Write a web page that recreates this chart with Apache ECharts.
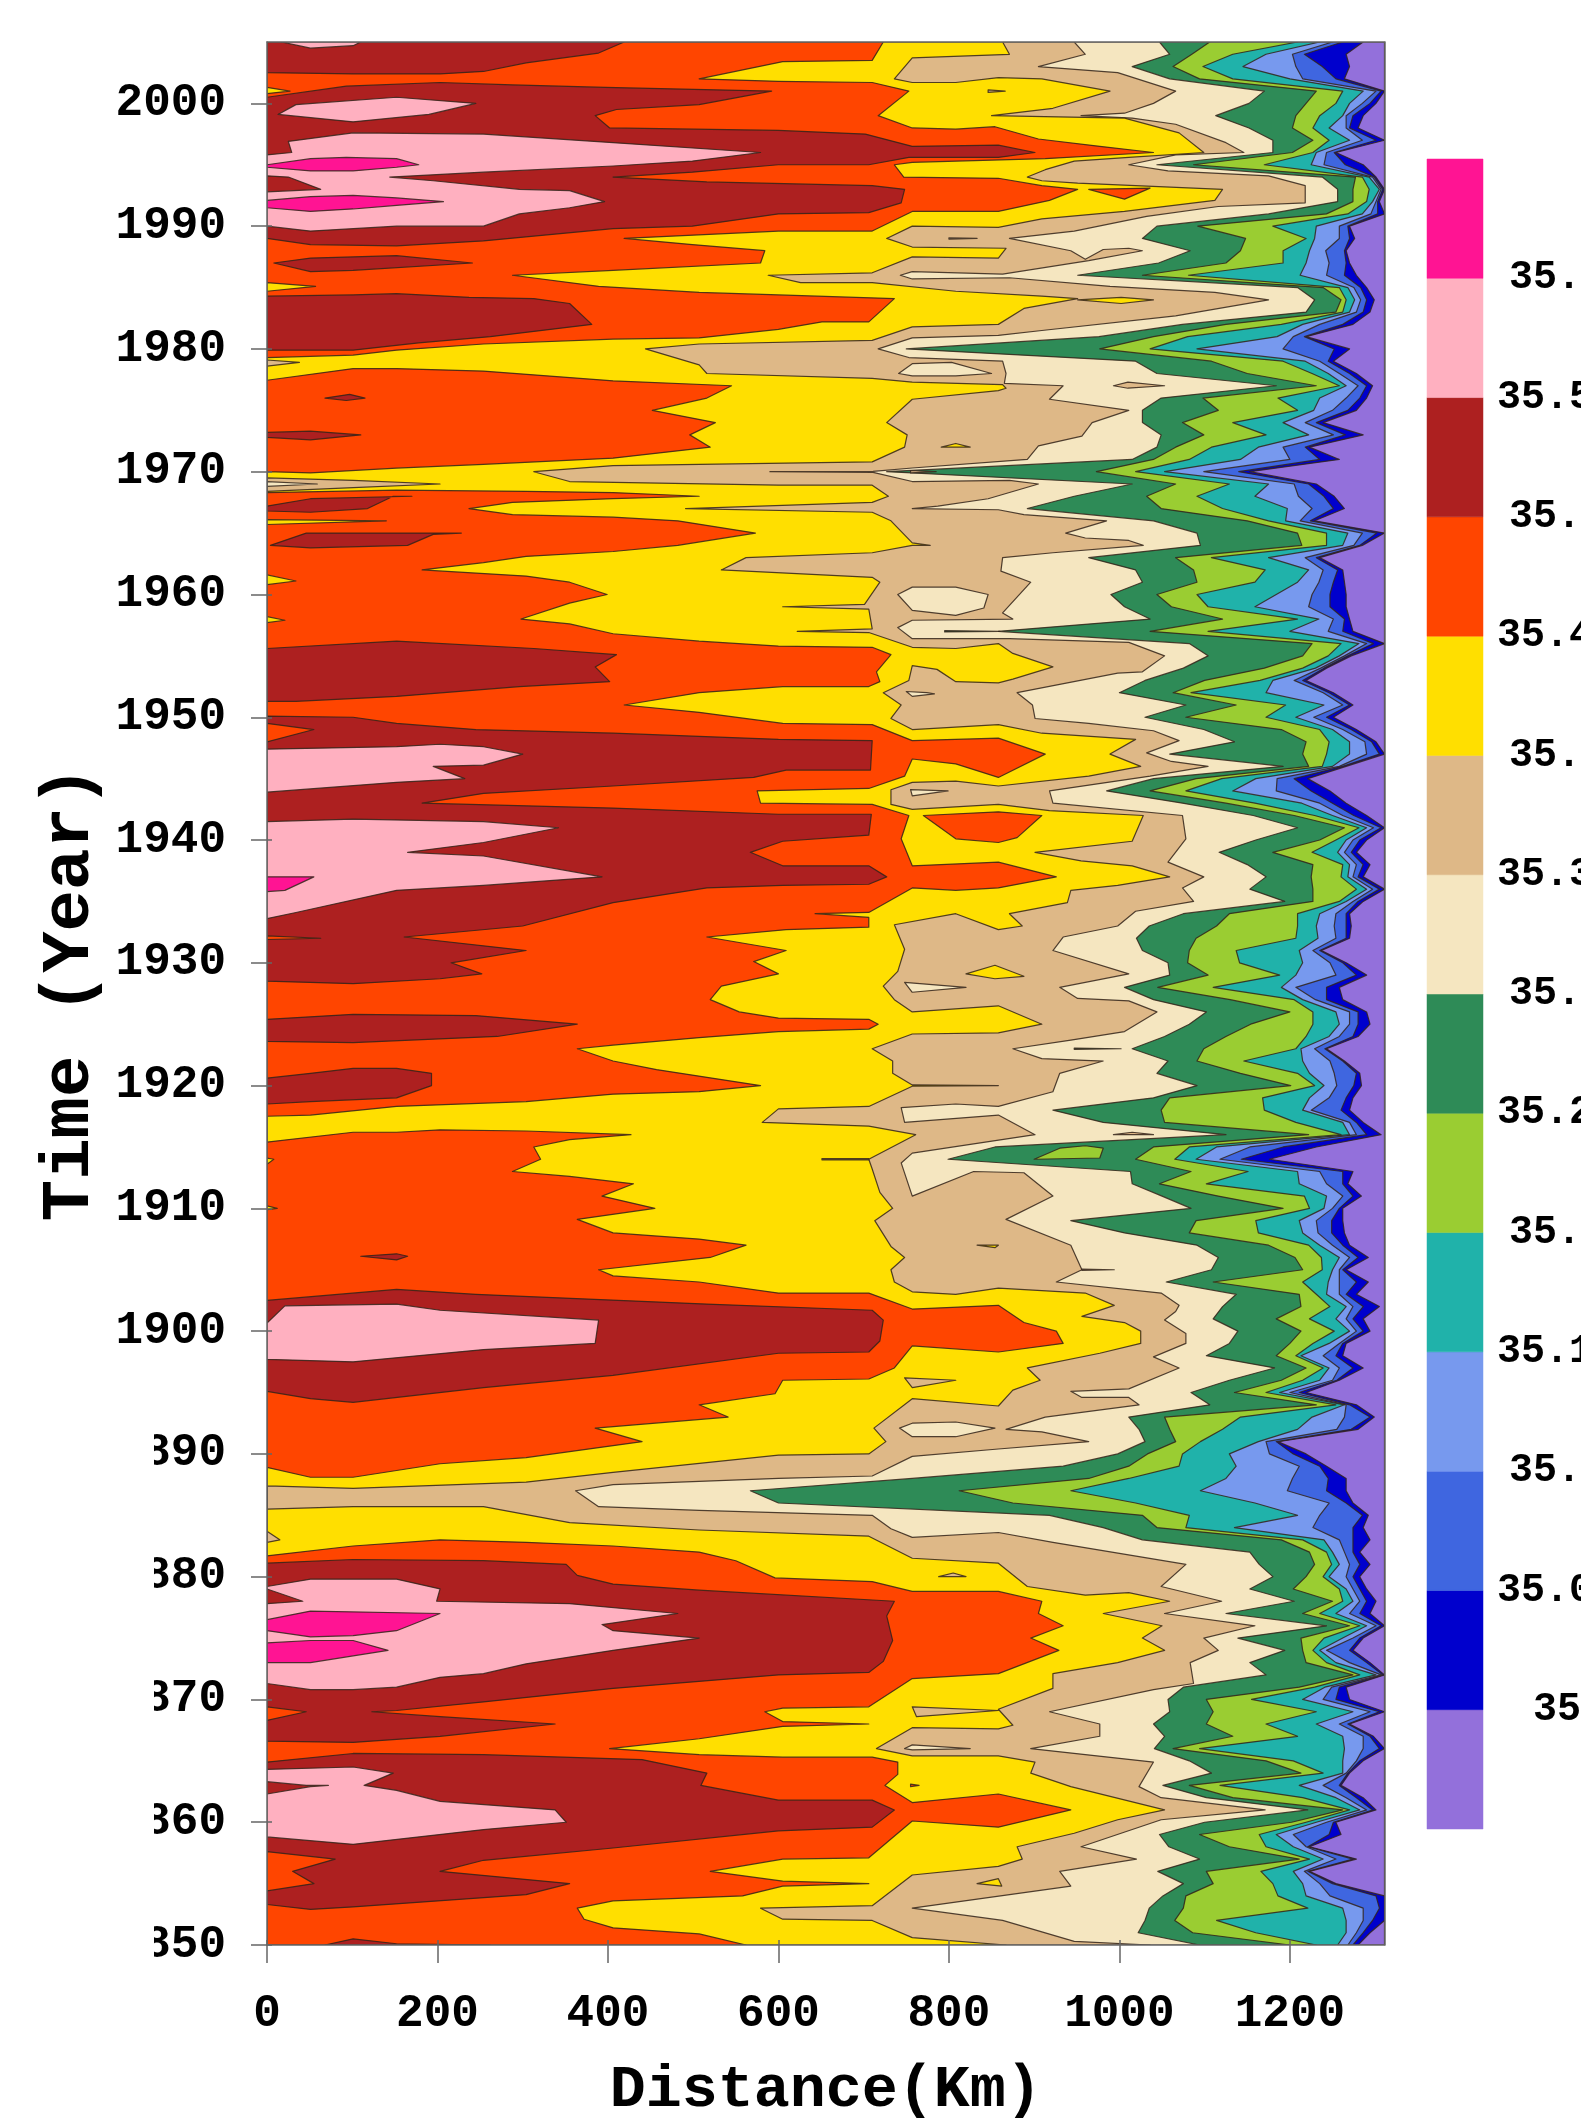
<!DOCTYPE html>
<html><head><meta charset="utf-8">
<style>html,body{margin:0;padding:0;background:#fff}#c{width:1581px;height:2123px}</style>
<script src="https://cdn.jsdelivr.net/npm/echarts@6/dist/echarts.min.js"></script>
</head><body><div id="c"></div>
<script>
// Colour bar
const levels=[35,35.05,35.1,35.15,35.2,35.25,35.3,35.35,35.4,35.45,35.5,35.55,35.6];
const levelLabels=["35","35.05","35.1","35.15","35.2","35.25","35.3","35.35","35.4","35.45","35.5","35.55","35.6"];
const bandColors=["#9370DB","#0000CD","#3F66E0","#7799EE","#20B2AA","#9ACD32","#2E8B57","#F5E6C0","#DEB887","#FFDF00","#FF4500","#AD2020","#FFB0C0","#FF1493"];
const yearTicks=[1850,1860,1870,1880,1890,1900,1910,1920,1930,1940,1950,1960,1970,1980,1990,2000];
const kmTicks=[0,200,400,600,800,1000,1200];

// Rows: year, then km where salinity crosses 35.30,35.25,35.20,35.15,35.10,35.05,35.00
const rows2000s=[[2005,1047,1106,1209,1235,1250,1262,1286],[2004,1059,1085,1133,1172,1203,1217,1266],[2003,1015,1063,1098,1145,1207,1238,1270],[2002,1059,1094,1133,1200,1215,1254,1264],[2001,1170,1231,1262,1286,1301,1307,1311],[2000,1152,1219,1254,1270,1285,1294,1301]];
const rows1990s=[[1999,1113,1207,1235,1262,1266,1274,1286],[1998,1152,1203,1227,1246,1266,1270,1280],[1997,1180,1227,1246,1270,1285,1301,1311],[1996,1180,1203,1227,1231,1243,1252,1254],[1995,1044,1087,1170,1225,1240,1265,1286],[1994,1238,1277,1285,1293,1297,1299,1301],[1993,1256,1274,1293,1305,1307,1309,1311],[1992,1256,1274,1290,1297,1301,1303,1305],[1991,1175,1243,1268,1285,1295,1303,1311],[1990,1044,1092,1180,1231,1258,1268,1270]];
const rows1980s=[[1989,1027,1148,1219,1229,1258,1270,1276],[1988,1083,1142,1192,1223,1242,1264,1266],[1987,1046,1125,1192,1219,1246,1266,1270],[1986,951,1027,1081,1212,1243,1264,1278],[1985,1209,1239,1258,1268,1275,1283,1290],[1984,1229,1260,1266,1276,1283,1290,1299],[1983,1219,1254,1262,1270,1278,1286,1294],[1982,1074,1125,1190,1215,1235,1262,1274],[1981,976,1040,1080,1185,1204,1217,1219],[1980,750,977,1036,1091,1192,1252,1270]];
const rows1970s=[[1979,1019,1108,1192,1218,1235,1245,1251],[1978,1044,1150,1226,1245,1258,1270,1278],[1977,1184,1231,1258,1266,1280,1290,1297],[1976,1049,1098,1186,1235,1266,1282,1290],[1975,1027,1116,1209,1228,1250,1268,1278],[1974,1027,1074,1133,1192,1218,1231,1239],[1973,1049,1099,1172,1222,1251,1265,1286],[1972,1044,1066,1108,1163,1192,1218,1223],[1971,1015,1040,1082,1142,1200,1235,1258],[1970,727,973,1019,1053,1099,1140,1153]];
const rows1960s=[[1969,1015,1066,1129,1175,1205,1222,1231],[1968,947,1032,1091,1159,1210,1240,1252],[1967,892,1049,1121,1197,1226,1251,1264],[1966,1040,1150,1175,1195,1212,1224,1229],[1965,1091,1209,1243,1268,1285,1302,1311],[1964,1095,1214,1243,1262,1275,1282,1285],[1963,964,1066,1108,1175,1218,1231,1235],[1962,1019,1087,1171,1222,1239,1256,1262],[1961,1027,1091,1159,1209,1234,1251,1264],[1960,990,1044,1091,1184,1226,1247,1266]];
const rows1950s=[[1959,1006,1061,1104,1159,1222,1247,1266],[1958,1036,1121,1209,1234,1251,1264,1270],[1957,858,1036,1104,1200,1245,1262,1274],[1956,1082,1226,1260,1281,1290,1298,1311],[1955,1104,1215,1245,1258,1264,1268,1272],[1954,1075,1170,1215,1230,1236,1240,1243],[1953,1030,1100,1165,1180,1205,1215,1219],[1952,1000,1063,1084,1172,1239,1246,1251],[1951,1078,1137,1195,1240,1262,1270,1274],[1950,1030,1078,1172,1207,1228,1243,1251]];
const rows1940s=[[1949,1099,1190,1235,1250,1262,1272,1278],[1948,1135,1219,1246,1270,1288,1296,1301],[1947,1059,1215,1243,1270,1290,1305,1311],[1946,1192,1222,1238,1250,1258,1262,1266],[1945,1040,1090,1120,1160,1185,1205,1221],[1944,985,1036,1078,1133,1184,1225,1247],[1943,1074,1125,1159,1214,1235,1250,1266],[1942,1157,1205,1229,1250,1262,1275,1290],[1941,1209,1264,1281,1290,1298,1307,1311],[1940,1160,1235,1254,1266,1274,1282,1290]];
const rows1930s=[[1939,1117,1180,1226,1256,1264,1272,1278],[1938,1150,1227,1262,1270,1278,1286,1294],[1937,1172,1225,1260,1268,1274,1280,1286],[1936,1153,1227,1278,1290,1297,1305,1311],[1935,1194,1227,1258,1266,1274,1280,1286],[1934,1075,1129,1209,1235,1254,1266,1270],[1933,1035,1114,1209,1231,1252,1266,1272],[1932,1020,1090,1207,1233,1254,1266,1270],[1931,1027,1082,1137,1211,1227,1235,1237],[1930,1057,1080,1141,1215,1247,1262,1266]];
const rows1920s=[[1929,1059,1104,1188,1207,1254,1278,1290],[1928,1006,1045,1110,1190,1207,1243,1258],[1927,1040,1130,1205,1215,1230,1243,1262],[1926,1102,1200,1227,1254,1270,1280,1290],[1925,1082,1154,1227,1258,1270,1280,1294],[1924,1053,1125,1219,1246,1258,1274,1280],[1923,1015,1099,1207,1213,1229,1241,1243],[1922,1057,1091,1146,1215,1247,1262,1264],[1921,1044,1142,1209,1223,1252,1278,1282],[1920,1091,1201,1229,1240,1255,1275,1284]];
const rows1910s=[[1919,1040,1059,1168,1223,1246,1266,1274],[1918,922,1049,1170,1215,1225,1260,1270],[1917,981,1053,1207,1262,1270,1278,1286],[1916,1125,1222,1260,1270,1278,1290,1307],[1915,854,1040,1082,1114,1153,1192,1231],[1914,799,1019,1065,1090,1118,1143,1176],[1913,1013,1084,1151,1209,1235,1262,1274],[1912,1015,1047,1102,1211,1243,1262,1268],[1911,1050,1116,1217,1243,1262,1274,1284],[1910,1084,1192,1223,1240,1250,1258,1262]];
const rows1900s=[[1909,943,1090,1160,1211,1231,1249,1262],[1908,1006,1082,1163,1215,1233,1249,1264],[1907,1091,1175,1222,1235,1250,1262,1270],[1906,1116,1206,1237,1258,1270,1280,1292],[1905,1108,1215,1238,1250,1258,1262,1266],[1904,1055,1110,1215,1245,1258,1278,1292],[1903,1137,1211,1231,1243,1258,1266,1278],[1902,1121,1213,1247,1266,1274,1286,1305],[1901,1110,1184,1223,1254,1266,1274,1286],[1900,1139,1213,1252,1270,1278,1286,1294]];
const rows1890s=[[1899,1129,1200,1227,1246,1258,1262,1266],[1898,1102,1184,1207,1213,1239,1254,1262],[1897,1182,1219,1239,1246,1258,1274,1286],[1896,1129,1190,1215,1235,1250,1255,1258],[1895,1084,1135,1172,1188,1200,1211,1219],[1894,1106,1231,1254,1264,1266,1270,1278],[1893,1011,1053,1142,1226,1264,1294,1299],[1892,1023,1059,1121,1209,1255,1272,1280],[1891,1030,1066,1095,1163,1172,1184,1186],[1890,998,1033,1074,1129,1176,1204,1219]];
const rows1880s=[[1889,934,1011,1070,1137,1211,1235,1243],[1888,757,964,1011,1125,1203,1245,1266],[1887,567,812,943,1095,1197,1243,1266],[1886,600,875,1019,1159,1246,1266,1274],[1885,918,1027,1082,1209,1235,1285,1292],[1884,981,1044,1078,1135,1227,1274,1286],[1883,1027,1190,1215,1240,1258,1274,1294],[1882,1153,1223,1243,1250,1264,1274,1282],[1881,1164,1229,1249,1258,1270,1282,1294],[1880,1180,1219,1239,1246,1266,1274,1282]];
const rows1870s=[[1879,1153,1204,1258,1266,1274,1282,1290],[1878,1205,1250,1262,1274,1282,1290,1301],[1877,1125,1215,1235,1254,1270,1282,1294],[1876,1243,1270,1282,1290,1301,1307,1311],[1875,1139,1213,1240,1262,1274,1282,1286],[1874,1194,1215,1227,1235,1243,1270,1274],[1873,1153,1219,1243,1254,1270,1290,1294],[1872,1172,1274,1282,1301,1307,1309,1311],[1871,1075,1211,1229,1241,1249,1258,1266],[1870,1057,1102,1155,1215,1239,1254,1270]];
const rows1860s=[[1869,1059,1110,1231,1274,1294,1305,1311],[1868,1040,1102,1172,1231,1258,1268,1270],[1867,1053,1133,1209,1262,1286,1294,1298],[1866,1041,1063,1094,1264,1286,1305,1311],[1865,1082,1172,1204,1262,1278,1282,1286],[1864,1108,1213,1239,1262,1266,1268,1270],[1863,1051,1082,1118,1211,1239,1258,1260],[1862,1102,1133,1215,1254,1266,1278,1286],[1861,1221,1262,1270,1282,1290,1297,1301],[1860,1100,1202,1219,1231,1243,1251,1254]];
const rows1850s=[[1859,1047,1094,1164,1184,1204,1246,1260],[1858,1058,1129,1172,1204,1219,1221,1223],[1857,1094,1211,1223,1239,1254,1274,1278],[1856,1045,1102,1166,1204,1217,1221,1223],[1855,1075,1110,1180,1215,1235,1250,1254],[1854,1051,1078,1186,1219,1247,1301,1311],[1853,1035,1075,1221,1262,1286,1305,1311],[1852,1030,1065,1114,1266,1286,1297,1311],[1851,1022,1086,1160,1266,1278,1286,1294],[1850,1094,1200,1231,1256,1268,1274,1280]];

// Traced contours as km,year pairs (top to bottom), closed along km = 0
const c3535=[947,2005,960,2004,905,2003,998,2002.5,1066,2001,1040,2000,1006,1999.2,955,1999,1015,1998.8,1066,1998.3,1125,1996.8,1146,1996,1066,1995.8,1011,1995,1057,1994.5,1175,1994.1,1218,1993.3,1218,1991.9,1116,1991.6,1032,1990.8,947,1989.6,871,1989,943,1988,960,1987.3,981,1988.1,1011,1988.2,1027,1988,964,1987.2,863,1986.1,757,1986.3,743,1986,757,1985.7,871,1985.8,989,1985.1,1112,1984.6,1175,1984,1066,1982.7,909,1981.5,858,1981.1,757,1980.9,717,1980,753,1979.3,863,1979,867,1978,865,1977.2,934,1977,918,1975.9,1011,1975,968,1974,956,1972.9,905,1972.1,892,1971,757,1970.3,711,1970.03,590,1970,711,1969.95,757,1969.2,871,1969.3,905,1969,846,1967.8,787,1967.2,757,1967,858,1966.9,888,1966.5,985,1966,937,1965,960,1964.6,1011,1964.4,1028,1964,922,1963.4,863,1963,861,1961.9,896,1961,863,1958.5,875,1958,757,1957.9,740,1957.3,757,1956.4,871,1956.4,1011,1956.1,1053,1955,1027,1953.7,998,1953.6,880,1952,898,1951,901,1949.9,964,1949.5,1040,1948.9,1070,1948.1,1032,1947.1,1061,1946.4,1104,1946,1036,1945.2,918,1944,922,1943,1074,1942,1078,1940.1,1057,1938.2,1099,1937,1074,1936.1,1087,1935,1019,1934.2,998,1933,934,1932.1,922,1931,1011,1929.1,930,1928,951,1927.1,1011,1926.9,1044,1926,1006,1924.4,943,1923.7,875,1923,909,1922.2,981,1922,930,1921,922,1919.5,858,1918.3,808,1918.5,744,1918.2,748,1917,858,1917.6,901,1916,757,1914.5,744,1913.7,757,1911,829,1913,888,1912.9,922,1911,867,1909.1,943,1907,956,1905,926,1904,1049,1903.1,1070,1902.1,1066,1901.6,1053,1900.9,1078,1899.8,1078,1899,1040,1897.9,1070,1897,1011,1895.3,943,1895.1,956,1894.6,1011,1894.6,1023,1894,913,1893,867,1892,909,1891.8,964,1891,858,1890.4,757,1889.8,710,1888.2,600,1888,406,1887.5,362,1887,389,1885.7,507,1885.4,710,1885,732,1883.9,757,1883.2,858,1883.6,922,1882.8,1078,1881,1049,1879.2,1120,1878,1053,1877,1159,1876,1099,1875,1116,1874,1083,1873,1087,1871.3,1040,1870.8,918,1869,977,1868,977,1867,896,1866,1040,1864.9,1023,1862.9,1049,1862,1171,1861,1049,1860.2,955,1858,1020,1857,930,1856,943,1854.8,757,1853,863,1852,947,1850.3,1036,1850];
const c3540=[863,2005,871,2004,757,2003.7,736,2002,757,2001.7,808,2001.7,858,2002.1,909,2002,989,2001,922,1999.6,850,1999,1006,1998.8,1070,1997.6,1099,1996,1011,1995.6,947,1995.3,913,1994.6,892,1994,909,1993.7,951,1993.5,1121,1993,1112,1992.1,1006,1991.2,909,1990.6,858,1989.9,757,1990,727,1989,757,1988.3,867,1988.2,858,1987.4,757,1987.5,710,1986.2,588,1986,626,1985.4,710,1985.4,808,1984.7,909,1984.3,951,1984.1,888,1983.3,858,1982,757,1981.8,710,1980.7,507,1980.4,444,1980,507,1978.7,516,1978,710,1977.6,757,1977.3,863,1977.1,867,1976.8,858,1976.6,757,1975.9,727,1974,751,1973,748,1972,710,1970.8,406,1970.5,313,1970,355,1969.2,600,1968.9,710,1968.9,729,1968,710,1967.5,491,1967,710,1966.7,732,1966,757,1964.2,778,1964,757,1964,710,1963.4,562,1963,533,1962,710,1961.4,719,1961,701,1959.2,605,1959,706,1958.8,710,1957.2,622,1957,706,1956.9,757,1955.7,808,1955.6,858,1956,875,1955.2,922,1954.1,875,1953.1,858,1952.8,808,1952.9,786,1953.9,757,1954.2,753,1953,723,1952,744,1951,732,1949.9,757,1949,858,1949.4,909,1948.7,1019,1948.2,989,1947,1025,1946,964,1945.2,858,1944.4,808,1944.8,757,1944.7,732,1944.1,732,1942.9,757,1942.5,858,1942.9,918,1942.4,1028,1942,1015,1939.9,901,1939,955,1938.3,1015,1937.9,1059,1937,998,1936.3,943,1935.9,939,1934.9,871,1934,886,1933,858,1932.7,808,1934,736,1933.1,748,1931.1,740,1929.3,723,1928.1,736,1927,757,1926,858,1926.5,909,1925,858,1924.3,757,1924.2,710,1923,734,1922,734,1921,757,1920.05,858,1920,757,1919.95,706,1918.3,600,1918.1,581,1917,706,1916.7,761,1916,706,1914,710,1913.2,719,1911.3,734,1910,713,1909,732,1906.9,748,1906,732,1905,736,1904,757,1903.2,808,1903,858,1903.5,960,1903.1,994,1902.1,956,1901.2,1006,1900.7,1025,1900,1025,1899,977,1898.2,892,1897,907,1896,875,1895.2,858,1893.9,757,1894.5,712,1892.1,726,1891,706,1890,600,1889.9,406,1888.5,304,1887.7,101,1887.2,0,1887.4,0,1885.5,101,1885.7,254,1885.7,355,1884.4,507,1883.8,706,1883.3,757,1881.5,858,1881.1,892,1879.2,960,1878.5,1011,1878.7,1059,1878,981,1877,1050,1876,1027,1875,1053,1874,998,1873,922,1872.1,922,1870.9,858,1869.2,875,1867.9,858,1867.6,757,1867.7,715,1866,757,1865.4,858,1865.4,901,1864.9,896,1864,943,1862.9,1053,1861,998,1860.2,947,1859.1,880,1858,886,1857,858,1856.4,757,1855.7,710,1853.2,579,1853,605,1852.1,710,1852,757,1850.6,867,1850];
const c3545=[723,2005,710,2003.5,605,2003.4,507,2002,600,2001.8,710,2001.7,753,2001,717,1999,757,1998,808,1997.9,854,1998.1,905,1997.1,977,1996.5,1040,1996,913,1995.5,757,1995.2,736,1995,747,1994,858,1993.9,909,1993.3,951,1993,918,1992.1,858,1991.2,757,1991.2,710,1989.6,600,1989.6,419,1989,499,1988.5,584,1988,579,1987,406,1986.4,288,1986,389,1985.1,507,1984.6,600,1984.4,736,1984.1,706,1982.2,651,1982.2,600,1981.6,507,1980.9,406,1980.8,254,1980.4,152,1979.9,101,1979.5,0,1979.3,0,1977.45,101,1978.4,152,1978.4,254,1978.2,406,1977.4,545,1977,516,1976,452,1975,526,1974,496,1973,520,1972,406,1971.1,254,1970.6,152,1970.3,51,1969.9,0,1970,0,1968.3,152,1968.5,304,1968.4,406,1968.3,507,1968,406,1967.8,288,1967.5,237,1967,288,1966.5,406,1966.3,482,1966,573,1965,482,1964,406,1963.5,304,1963.1,254,1962.6,182,1962,304,1961.5,355,1961,399,1960,355,1959.3,298,1958,355,1957.6,406,1956.8,507,1956.2,600,1955.8,710,1955.7,732,1955.1,715,1953.7,719,1952.9,706,1952.5,605,1952.5,507,1952,419,1951,507,1950.4,605,1949.5,710,1949.4,757,1948.1,858,1948.3,913,1947,858,1945.1,808,1946.2,757,1946.6,748,1945.2,706,1944.2,575,1944,579,1943,710,1942.9,753,1942,744,1940.1,757,1937.9,858,1938.2,926,1937,858,1936.1,808,1935.9,757,1936.1,706,1934.1,643,1934,706,1933.7,706,1932.9,609,1932.7,516,1932.1,609,1931,571,1930.1,600,1929.1,533,1928.1,520,1927,554,1926,600,1925.5,706,1925.4,717,1925,706,1924.6,600,1924.4,507,1923.9,406,1923.3,364,1923,406,1922,457,1921.3,579,1920,507,1919.5,406,1919.3,304,1918.7,152,1918.3,51,1917.6,0,1917.5,0,1915.4,101,1916.2,152,1916.2,203,1916.4,304,1916.3,427,1916,355,1915.6,313,1915,321,1914,288,1913,355,1912.6,430,1912,393,1911,455,1910,364,1909.1,406,1908,507,1907.5,562,1907,520,1906,389,1905,406,1904.5,507,1904,600,1903.1,706,1903.1,757,1901.8,858,1902.1,888,1900.7,926,1900,934,1899,858,1898.3,757,1898.8,736,1897,706,1896.1,605,1896,596,1894.9,507,1894,541,1893,385,1892.1,440,1891,304,1889.7,203,1889.2,101,1888.1,51,1888.1,0,1888.9,0,1881.7,101,1882.5,203,1883,304,1882.8,406,1882.5,507,1882,550,1881.3,596,1879.9,710,1879.6,757,1878.8,858,1878.8,909,1878,905,1877,934,1876,896,1875,929,1874,858,1872.1,757,1871.7,706,1869.4,605,1869.3,584,1869,605,1868.2,706,1868,605,1867.8,507,1866.8,402,1866,507,1865.5,605,1865.3,710,1865.3,740,1864.9,740,1863.9,725,1863,757,1861.6,858,1862.3,943,1861,858,1859.6,757,1860.1,706,1857.1,605,1857,520,1856,605,1855.2,706,1855,605,1854.8,558,1854,406,1853.6,364,1853,372,1852.1,406,1851.4,507,1850.9,562,1850];

// Closed regions: salinity above 35.50
const fire1=[0,2005,419,2005,389,2004.1,304,2003.3,254,2002.6,203,2002.4,101,2002.4,0,2002.5];
const fire2=[0,2000.5,93,2001.4,203,2001.7,288,2001.5,397,2001.3,592,2001,507,1999.9,410,1999.5,385,1999,402,1998,600,1997.8,702,1997.5,757,1996.5,858,1996.6,901,1996,858,1995.6,753,1995.6,706,1995,600,1995,499,1994.4,406,1994,516,1993.6,710,1993.3,748,1993,744,1991.9,706,1991.1,600,1991,499,1990,406,1989.8,254,1988.8,152,1988.4,51,1988.5,0,1989];
const fire3=[8,1987,51,1987.4,152,1987.6,241,1987,101,1986.4,51,1986.3];
const fire4=[0,1984.3,101,1984.4,152,1984.5,237,1984.2,313,1984.1,355,1983.7,381,1982,262,1981,178,1980.5,101,1979.9,0,1979.9];
const fire5=[68,1976,97,1976.3,115,1976,93,1975.8];
const fire6=[0,1973.2,51,1973.3,110,1973,51,1972.6,0,1972.8];
const fire7=[0,1967.2,51,1967.8,170,1968,148,1968,118,1967,51,1966.7,0,1966.8];
const fire8=[4,1964,46,1965,228,1965,195,1964.9,165,1964,51,1963.8];
const fire9=[0,1955.6,152,1956.2,313,1955.6,410,1955.1,385,1954.1,402,1952.9,296,1952.5,152,1951.7,34,1951.3,0,1951.3];
const fire10=[0,1950.1,101,1950,152,1949.5,245,1949,406,1948.7,600,1948.2,710,1948.1,708,1945.7,609,1945.7,571,1945.1,406,1944.4,254,1943.8,182,1943,406,1942.6,600,1942.1,709,1942.1,706,1940.4,605,1939.9,567,1939,605,1937.9,706,1937.9,727,1937,706,1936.4,605,1936.3,516,1936.1,406,1934.9,300,1933,161,1932.1,304,1931,216,1930,252,1929.1,203,1928.7,101,1928.3,0,1928.5];
const fire11=[0,1925.4,101,1925.8,245,1925.7,364,1925,270,1924,101,1923.5,0,1923.6];
const fire12=[0,1920.6,51,1921,101,1921.4,152,1921.4,193,1921,193,1920,152,1919,51,1918.7,0,1918.5];
const fire13=[110,1906.1,152,1906.3,165,1906.1,152,1905.8];
const fire14=[0,1902.5,152,1903.4,245,1903,516,1902.2,710,1901.7,723,1900.9,719,1899.2,706,1898.3,600,1898.2,406,1896.4,254,1895.4,101,1894.2,51,1894.5,0,1895.1];
const fire15=[0,1881.1,101,1881.4,254,1881.3,351,1881,364,1880.1,406,1879.4,507,1878.9,736,1878,727,1876.8,734,1874.8,723,1873.1,706,1872.2,600,1872,406,1870.9,254,1869.8,152,1869.1,123,1869,203,1868.6,338,1868,203,1867,101,1866.5,0,1866.6];
const fire16=[0,1864.9,101,1865.6,254,1865.5,440,1865.1,516,1864,509,1863,600,1861.8,710,1861.8,736,1861,710,1859.6,600,1859.3,406,1857.9,254,1856.9,203,1856,355,1855,304,1854.1,101,1853.1,51,1852.9,0,1853.3];
const fire17=[68,1850,101,1850.5,152,1850.1,262,1850];
// Salinity above 35.55 and 35.60
const pink1=[17,2005,51,2004.5,101,2004.7,110,2005];
const pink2=[13,1999.1,34,1999.9,152,2000.5,245,2000,190,1999.1,101,1998.5];
const pink3=[0,1995.8,29,1996,25,1996.9,101,1997.6,254,1997.5,406,1996.8,579,1996,499,1995.3,406,1994.9,254,1994.4,144,1994,195,1993.7,296,1993,355,1992.9,396,1992,355,1991.5,296,1991,254,1990,152,1990,51,1989.6,0,1990];
const pink4=[0,1947.4,152,1947.6,203,1947.8,254,1947.6,300,1947,254,1946.1,195,1946,232,1945,152,1944.7,0,1943.9];
const pink5=[0,1941.5,101,1941.7,254,1941.5,342,1941,254,1939.8,165,1939,254,1938.7,393,1937,254,1936.3,152,1935.9,34,1934.1,0,1933.6];
const pink6=[21,1902.06,152,1902.2,203,1901.7,389,1900.9,385,1899,254,1898.5,101,1897.5,0,1897.7,0,1900.65];
const pink7=[0,1879.2,51,1879.8,152,1879.8,203,1879,199,1878,355,1877.8,482,1877,393,1876.1,406,1875.6,507,1875,406,1874,304,1872.9,254,1872.1,203,1871.8,152,1871,101,1870.8,51,1870.8,0,1871.3];
const pink8=[0,1864.3,101,1864.5,148,1864,114,1863,152,1862.6,203,1861.7,338,1861,351,1860,254,1859.4,101,1858.2,0,1858.8];
const deep1=[0,1995,51,1995.5,93,1995.6,152,1995.5,178,1995,152,1994.8,101,1994.5,51,1994.5,0,1994.8];
const deep2=[0,1992.1,51,1992.4,101,1992.5,152,1992.3,207,1992,152,1991.7,101,1991.4,51,1991.2,0,1991.5];
const deep3=[0,1937,55,1937,21,1935.9,0,1935.8];
const deep4=[0,1876.5,51,1877.2,203,1877,152,1875.6,101,1875.2,51,1875.1,0,1875.6];
const deep5=[0,1874.6,51,1874.8,101,1874.8,142,1874,51,1873,0,1873];

// Small closed patches, as km,year pairs
const patchesGreen=[[757,1979.05,805,1979.05,805,1978.95,757,1978.95],[795,1957.05,860,1957,795,1956.95],[947,1923.05,1002,1923,947,1922.95]];
const patchYg=[900,1914,930,1914.9,960,1915.1,981,1914.9,977,1914.1];
const patchesCream=[[741,1978,757,1978.8,803,1978.9,850,1978,808,1977.8,757,1977.8],[740,1960,757,1960.6,808,1960.6,846,1960,841,1958.9,808,1958.3,757,1958.7],[750,1952.1,774,1952,783,1951.9,757,1951.7],[755,1944.1,799,1944,757,1943.6],[748,1928.4,820,1928,757,1927.6],[742,1892.1,757,1892.5,808,1892.6,854,1892.1,808,1891.4,757,1891.4],[748,1866,757,1866.3,825,1866,757,1865.9],[800,1989.05,833,1989,800,1988.95]];
const patchesTan=[[0,1979.1,38,1978.9,0,1978.6],[993,1977,1010,1977.3,1053,1977,1010,1976.8],[0,1969.5,101,1969.3,203,1969,101,1968.7,0,1968.4],[755,1970.1,785,1970,755,1969.9],[0,1883.7,15,1883,0,1882.8],[757,1869.4,858,1869.1,762,1868.6],[748,1896.2,808,1896,757,1895.4],[788,1880,805,1880.3,820,1880],[993,1916,1015,1916.2,1040,1916],[651,1914.05,706,1914.05,706,1913.95,651,1913.95],[956,1905.05,994,1905,956,1904.95],[846,2001.1,866,2001,846,2000.9]];
const patchesCreamOnTan=[[0,1969.2,59,1969,0,1968.8]];
const patchesYellowInTan=[[951,1984,1002,1984.2,1040,1984,1002,1983.7],[791,1972,808,1972.3,825,1972],[820,1929.1,854,1929.8,888,1928.9,854,1928.7],[833,1907,858,1907,854,1906.8],[833,1855,858,1855.4,862,1854.8]];
const patchesOrangeInYellow=[[964,1993,1036,1993.1,1006,1992.2],[770,1942,858,1942.3,909,1942,880,1940.2,858,1939.8,808,1940.1],[755,1863.1,765,1863,755,1862.9]];
const patchesYellowInOrange=[[0,2001.3,27,2001,0,2000.8],[0,1985.4,57,1985.1,0,1984.7],[0,1966.1,140,1966,0,1965.7],[0,1961.6,34,1961.1,0,1960.8],[0,1958.2,21,1957.9,0,1957.7],[0,1914.1,8,1914,0,1913.6],[0,1910.2,12,1910,0,1909.9]];
const patchesOrangeInFire=[[0,1949.5,55,1949,0,1948],[0,1932.2,63,1932,0,1931.9],[0,1869.4,46,1869,0,1868.3],[0,1857.6,80,1857,30,1856,55,1855,0,1854.4]];
const patchesFireInPink=[[0,1994.1,25,1994,63,1993,0,1992.8],[0,1879,42,1878,0,1877.8],[0,1863.3,46,1863,72,1863,51,1862.9,0,1862.3]];

const allRows=[].concat(rows2000s,rows1990s,rows1980s,rows1970s,rows1960s,rows1950s,rows1940s,rows1930s,rows1920s,rows1910s,rows1900s,rows1890s,rows1880s,rows1870s,rows1860s,rows1850s);
const maxKm=1311, topYear=2005, botYear=1850;

function pairs(f){const p=[];for(let i=0;i<f.length;i+=2)p.push([f[i],f[i+1]]);return p;}
function open(f){const p=pairs(f);return [[0,p[0][1]]].concat(p,[[0,p[p.length-1][1]]]);}
const shapes=[];
function add(band,pts){shapes.push({band,pts});}
add(0,[[0,topYear],[maxKm,topYear],[maxKm,botYear],[0,botYear]]);
[7,6,5,4,3,2,1].forEach((col,i)=>{
  const p=[[0,topYear]].concat(allRows.map(r=>[r[col],r[0]]),[[0,botYear]]);
  add(i+1,p);
});
patchesGreen.forEach(f=>add(6,pairs(f)));
add(5,pairs(patchYg));
add(8,open(c3535));
patchesCream.forEach(f=>add(7,pairs(f)));
add(9,open(c3540));
patchesTan.forEach(f=>add(8,pairs(f)));
patchesCreamOnTan.forEach(f=>add(7,pairs(f)));
patchesYellowInTan.forEach(f=>add(9,pairs(f)));
add(10,open(c3545));
patchesOrangeInYellow.forEach(f=>add(10,pairs(f)));
patchesYellowInOrange.forEach(f=>add(9,pairs(f)));
[fire1,fire2,fire3,fire4,fire5,fire6,fire7,fire8,fire9,fire10,fire11,fire12,fire13,fire14,fire15,fire16,fire17].forEach(f=>add(11,pairs(f)));
patchesOrangeInFire.forEach(f=>add(10,pairs(f)));
[pink1,pink2,pink3,pink4,pink5,pink6,pink7,pink8].forEach(f=>add(12,pairs(f)));
patchesFireInPink.forEach(f=>add(11,pairs(f)));
[deep1,deep2,deep3,deep4,deep5].forEach(f=>add(13,pairs(f)));

const FONT='"Liberation Mono"';
const lineCol='#666';
const hiddenLabel={show:false};
const chart=echarts.init(document.getElementById('c'),null,{renderer:'canvas'});
const barEdges=[34.95].concat(levels,[35.65]);
chart.setOption({
  animation:false,backgroundColor:'#fff',
  grid:[{left:267,top:42,width:1117.5,height:1903,containLabel:false,outerBoundsMode:'none'},{left:1427,top:159,width:56,height:1670,outerBoundsMode:'none'}],
  graphic:[{type:'rect',z:100,shape:{x:100,y:1420,width:54,height:545},style:{fill:'#fff'}}],
  xAxis:[
    {gridIndex:0,type:'value',min:0,max:maxKm,position:'bottom',z:10,
     name:'Distance(Km)',nameLocation:'middle',nameGap:116,
     nameTextStyle:{fontFamily:FONT,fontWeight:'bold',fontSize:60,color:'#000'},
     axisLine:{show:true,onZero:false,lineStyle:{color:lineCol,width:1.5}},
     axisTick:{show:true,length:18,customValues:kmTicks,lineStyle:{color:lineCol,width:1.5}},
     axisLabel:{show:true,customValues:kmTicks,margin:46,formatter:v=>String(v),fontFamily:FONT,fontWeight:'bold',fontSize:46,color:'#000'},
     splitLine:{show:false}},
    {gridIndex:0,type:'value',min:0,max:maxKm,position:'bottom',z:10,axisLine:{show:false,onZero:false},
     axisTick:{show:true,inside:true,length:5,customValues:kmTicks,lineStyle:{color:lineCol,width:1.5}},axisLabel:hiddenLabel,splitLine:{show:false}},
    {gridIndex:0,type:'value',min:0,max:maxKm,position:'top',z:10,axisLine:{show:true,onZero:false,lineStyle:{color:lineCol,width:1.5}},axisTick:{show:false},axisLabel:hiddenLabel,splitLine:{show:false}},
    {gridIndex:1,type:'value',min:0,max:1,show:false}
  ],
  yAxis:[
    {gridIndex:0,type:'value',min:botYear,max:topYear,position:'left',z:10,
     name:'Time (Year)',nameLocation:'middle',nameGap:158,nameRotate:90,
     nameTextStyle:{fontFamily:FONT,fontWeight:'bold',fontSize:69,color:'#000'},
     axisLine:{show:true,onZero:false,lineStyle:{color:lineCol,width:1.5}},
     axisTick:{show:true,length:16,customValues:yearTicks,lineStyle:{color:lineCol,width:1.5}},
     axisLabel:{show:true,customValues:yearTicks,margin:41,formatter:v=>String(v),fontFamily:FONT,fontWeight:'bold',fontSize:46,color:'#000'},
     splitLine:{show:false}},
    {gridIndex:0,type:'value',min:botYear,max:topYear,position:'left',z:10,axisLine:{show:false,onZero:false},
     axisTick:{show:true,inside:true,length:5,customValues:yearTicks,lineStyle:{color:lineCol,width:1.5}},axisLabel:hiddenLabel,splitLine:{show:false}},
    {gridIndex:0,type:'value',min:botYear,max:topYear,position:'right',z:10,axisLine:{show:true,onZero:false,lineStyle:{color:lineCol,width:1.5}},axisTick:{show:false},axisLabel:hiddenLabel,splitLine:{show:false}},
    {gridIndex:1,type:'value',min:34.95,max:35.65,position:'right',z:10,
     axisLine:{show:false},axisTick:{show:false},splitLine:{show:false},
     axisLabel:{show:true,customValues:levels,margin:74,align:'center',fontFamily:FONT,fontWeight:'bold',fontSize:40,color:'#000',
       formatter:v=>{let best=0;levels.forEach((l,i)=>{if(Math.abs(l-v)<Math.abs(levels[best]-v))best=i;});return levelLabels[best];}}}
  ],
  series:[
    {type:'custom',coordinateSystem:'cartesian2d',xAxisIndex:0,yAxisIndex:0,clip:true,silent:true,z:2,
     data:shapes.map((s,i)=>[i,i]),
     renderItem:(params,api)=>{
       const s=shapes[params.dataIndex];
       return {type:'polygon',shape:{points:s.pts.map(p=>api.coord(p))},
         style:{fill:bandColors[s.band],stroke:'rgba(50,35,25,0.85)',lineWidth:1.2,lineJoin:'round'}};
     }},
    {type:'custom',coordinateSystem:'cartesian2d',xAxisIndex:3,yAxisIndex:3,silent:true,z:2,
     data:bandColors.map((c,i)=>[i,i]),
     renderItem:(params,api)=>{
       const i=params.dataIndex;
       const a=api.coord([0,barEdges[i+1]]),b=api.coord([1,barEdges[i]]);
       return {type:'rect',shape:{x:a[0],y:a[1],width:b[0]-a[0],height:b[1]-a[1]},style:{fill:bandColors[i],stroke:bandColors[i],lineWidth:0.5}};
     }}
  ]
});
</script></body></html>
